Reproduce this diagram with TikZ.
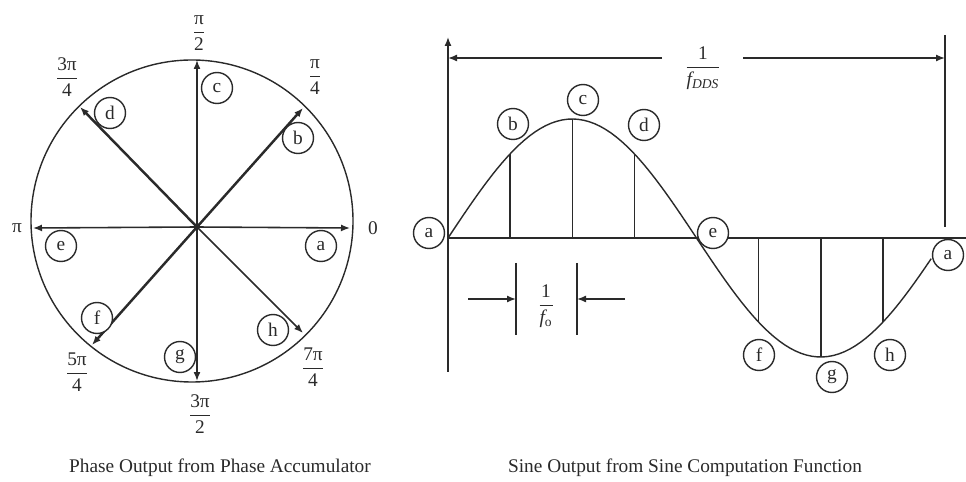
\documentclass[tikz,border=0pt]{standalone}
\usepackage{fontspec}
\setmainfont{Liberation Serif}
\usetikzlibrary{arrows.meta,calc}
\definecolor{ink}{HTML}{2A2A2A}
\newcommand{\angfrac}[2]{$\displaystyle\frac{\mbox{#1}}{\mbox{#2}}$}

\begin{document}
\begin{tikzpicture}[
  x=0.02cm,y=-0.02cm,
  every node/.style={font=\fontsize{11}{13}\selectfont,text=ink},
  tag/.style={draw=ink,circle,line width=0.8pt,minimum size=0.62cm,inner sep=0pt,fill=white},
  vec/.style={-{Latex[length=1.8mm,width=1.4mm]},line width=0.9pt,draw=ink},
  heavy/.style={line width=1.4pt},
  arr/.style={-{Latex[length=1.8mm,width=1.4mm]},line width=0.8pt,draw=ink},
  ln/.style={line width=0.8pt,draw=ink}
]
  \useasboundingbox (0,0) rectangle (966,482);

  % phase wheel
  \coordinate (C) at (192,221);
  \draw[ln] (C) circle (161);
  \coordinate (O) at (197,227);
  \coordinate (e0) at (350,228);
  \coordinate (e1) at (303,108);
  \coordinate (e2) at (197,60);
  \coordinate (e3) at (80,107);
  \coordinate (e4) at (33,228);
  \coordinate (e5) at (92,345);
  \coordinate (e6) at (197,381);
  \coordinate (e7) at (303,333);
  \draw[vec] (O)--(e0); \draw[vec,heavy] (O)--(e1); \draw[vec] (O)--(e2); \draw[vec,heavy] (O)--(e3);
  \draw[vec] (O)--(e4); \draw[vec,heavy] (O)--(e5); \draw[vec] (O)--(e6); \draw[vec] (O)--(e7);

  \node (l0) at (373,228) {0};
  \node (l1) at (315,77) {\angfrac{π}{4}};
  \node (l2) at (199,33) {\angfrac{π}{2}};
  \node (l3) at (67,77) {\angfrac{3π}{4}};
  \node (l4) at (17,228) {π};
  \node (l5) at (77,372) {\angfrac{5π}{4}};
  \node (l6) at (200,414) {\angfrac{3π}{2}};
  \node (l7) at (313,367) {\angfrac{7π}{4}};

  \node[tag] (pa) at (321,246) {a};
  \node[tag] (pb) at (298,138) {b};
  \node[tag] (pc) at (217,88) {c};
  \node[tag] (pd) at (110,113) {d};
  \node[tag] (pe) at (61,246) {e};
  \node[tag] (pf) at (97,318) {f};
  \node[tag] (pg) at (180,357) {g};
  \node[tag] (ph) at (273,330) {h};

  \node (cap1) at (220,468) {Phase Output from Phase Accumulator};

  % sine output
  \coordinate (org) at (448,238);
  \coordinate (ytop) at (448,37);
  \coordinate (ybot) at (448,372);
  \coordinate (xend) at (966,238);
  \draw[arr] (ybot)--(ytop);
  \draw[ln] (org)--(xend);
  \draw[ln] (945,35)--(945,227);
  \draw[ln] plot[domain=0:350,samples=90] ({448+\x/360*497},{238-119*sin(\x)});
  \draw[ln] (510.1,238)--(510.1,153.9);
  \draw[ln] (572.3,238)--(572.3,119);
  \draw[ln] (634.4,238)--(634.4,153.9);
  \draw[ln] (758.6,238)--(758.6,322.1);
  \draw[ln] (820.8,238)--(820.8,357);
  \draw[ln] (882.9,238)--(882.9,322.1);

  \node (tdds) at (703,68) {\angfrac{1}{\itshape f\textsubscript{DDS}}};
  \coordinate (gl) at (662,58);
  \coordinate (gr) at (743,58);
  \draw[arr] (gl)--(448,58);
  \draw[arr] (gr)--(945,58);

  \coordinate (t1) at (516,263);
  \coordinate (t2) at (577,263);
  \draw[ln] (t1)--++(0,72);
  \draw[ln] (t2)--++(0,72);
  \node (tfo) at (546,306) {\angfrac{1}{\itshape f\textsubscript{\upshape o}}};
  \draw[arr] (468,299)--(516,299);
  \draw[arr] (625,299)--(577,299);

  \node[tag] (sa) at (429,233) {a};
  \node[tag] (sb) at (513,124) {b};
  \node[tag] (sc) at (583,100) {c};
  \node[tag] (sd) at (644,125) {d};
  \node[tag] (se) at (713,233) {e};
  \node[tag] (sf) at (759,355) {f};
  \node[tag] (sg) at (832,377) {g};
  \node[tag] (sh) at (890,355) {h};
  \node[tag] (sa2) at (948,255) {a};

  \node (cap2) at (685,468) {Sine Output from Sine Computation Function};
\end{tikzpicture}
\end{document}
